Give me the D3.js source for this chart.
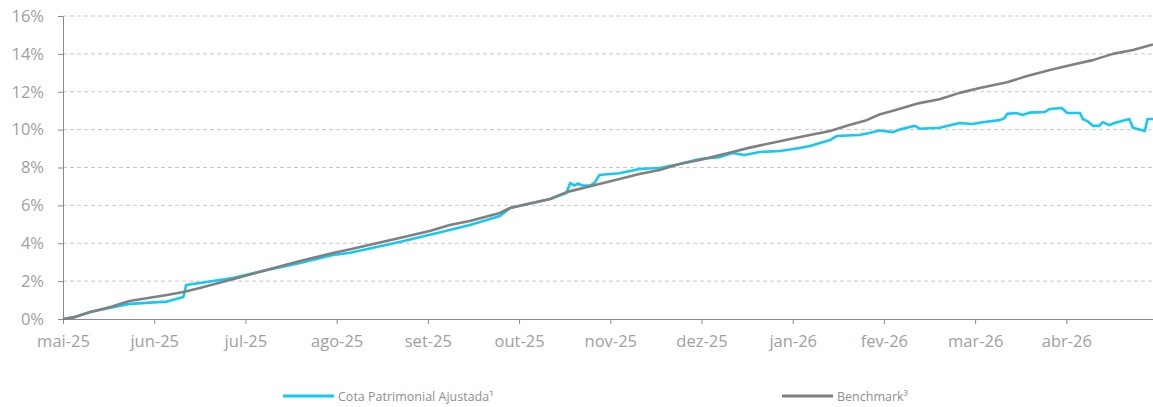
<!DOCTYPE html>
<html>
<head>
<meta charset="utf-8">
<script src="https://cdn.jsdelivr.net/npm/d3@7"></script>
<style>
  html, body { margin: 0; padding: 0; background: #fff; }
  svg { display: block; font-family: 'Open Sans', 'Noto Sans', sans-serif; }
</style>
</head>
<body>
<svg id="chart" width="1153" height="407"></svg>
<script>
// Month tick labels (equally spaced category-like months)
const monthLabels = ["mai-25","jun-25","jul-25","ago-25","set-25","out-25","nov-25","dez-25","jan-26","fev-26","mar-26","abr-26"];
const yTicks = [0, 2, 4, 6, 8, 10, 12, 14, 16];
const seriesNames = ["Cota Patrimonial Ajustada¹", "Benchmark³"];

// Time in months since mai-25 (fractional)
const cotaT = [0,0.13,0.30,0.52,0.73,1.00,1.14,1.32,1.35,1.50,1.86,2.24,2.60,2.96,3.15,3.69,4.24,4.46,4.79,4.90,5.34,5.52,5.56,5.61,5.64,5.70,5.78,5.83,5.88,6.10,6.32,6.54,6.76,6.98,7.20,7.34,7.47,7.64,7.86,8.08,8.19,8.41,8.48,8.73,8.84,8.95,9.10,9.17,9.34,9.39,9.61,9.83,9.97,10.10,10.27,10.32,10.35,10.45,10.52,10.60,10.76,10.82,10.95,11.01,11.15,11.18,11.23,11.29,11.36,11.40,11.47,11.53,11.69,11.73,11.86,11.89,11.95];
const cotaV = [0,0.1,0.37,0.6,0.8,0.88,0.92,1.16,1.8,1.9,2.16,2.59,2.96,3.38,3.5,4.07,4.7,4.96,5.44,5.86,6.34,6.65,7.18,7.05,7.15,7.05,7.05,7.2,7.6,7.7,7.92,7.97,8.18,8.45,8.55,8.77,8.66,8.82,8.87,9.03,9.14,9.45,9.66,9.72,9.82,9.95,9.87,10.0,10.2,10.05,10.1,10.35,10.3,10.4,10.5,10.6,10.83,10.88,10.77,10.9,10.93,11.09,11.14,10.88,10.88,10.56,10.45,10.2,10.2,10.4,10.24,10.35,10.56,10.1,9.93,10.56,10.56];

const benchT = [0,0.13,0.30,0.52,0.73,1.00,1.14,1.32,1.50,1.86,2.01,2.24,2.60,2.96,3.15,3.69,4.02,4.24,4.46,4.79,4.90,5.34,5.52,5.88,6.10,6.32,6.54,6.76,6.98,7.34,7.53,8.08,8.41,8.62,8.81,8.95,9.10,9.39,9.61,9.83,10.05,10.35,10.57,10.82,11.04,11.29,11.51,11.73,11.95];
const benchV = [0,0.1,0.37,0.63,0.95,1.16,1.27,1.43,1.64,2.1,2.3,2.6,3.06,3.49,3.68,4.28,4.65,4.96,5.17,5.6,5.86,6.34,6.7,7.13,7.39,7.66,7.87,8.18,8.4,8.82,9.05,9.61,9.93,10.24,10.5,10.8,11.0,11.4,11.6,11.94,12.2,12.5,12.83,13.15,13.4,13.67,14.0,14.2,14.5];

const colors = ["#16c8f2", "#808080"];

const svg = d3.select("#chart");
const margin = {left: 63, right: 0, top: 16, bottom: 88};
const W = 1153, H = 407;
const x = d3.scaleLinear().domain([0, 11.95]).range([margin.left, W - margin.right]);
const y = d3.scaleLinear().domain([0, 16]).range([H - margin.bottom, margin.top]);

// Grid lines
svg.append("g").selectAll("line").data(yTicks.filter(d => d > 0)).join("line")
  .attr("x1", margin.left).attr("x2", W)
  .attr("y1", d => y(d)).attr("y2", d => y(d))
  .attr("stroke", "#c8c8c8").attr("stroke-width", 1).attr("stroke-dasharray", "4,3");

// Y axis
const yAxis = d3.axisLeft(y).tickValues(yTicks).tickFormat(d => d + "%").tickSize(5).tickPadding(14);
const yg = svg.append("g").attr("transform", `translate(${margin.left},0)`).call(yAxis);
yg.attr("font-family", null).attr("font-size", null);
yg.select(".domain").attr("stroke", "#8a8a8a");
yg.selectAll(".tick line").attr("stroke", "#8a8a8a");
yg.selectAll(".tick text").attr("fill", "#a0a0a0").style("font-size", "16.5px");

// X axis
const xAxis = d3.axisBottom(x).tickValues(d3.range(monthLabels.length)).tickFormat(i => monthLabels[i]).tickSize(5).tickPadding(11);
const xg = svg.append("g").attr("transform", `translate(0,${y(0)})`).call(xAxis);
xg.attr("font-family", null).attr("font-size", null);
xg.select(".domain").attr("stroke", "#8a8a8a");
xg.selectAll(".tick line").attr("stroke", "#8a8a8a");
xg.selectAll(".tick text").attr("fill", "#a0a0a0").style("font-size", "16.5px");

// Lines
const line = d3.line().x(d => x(d[0])).y(d => y(d[1]));
const bench = benchT.map((t, i) => [t, benchV[i]]);
const cota = cotaT.map((t, i) => [t, cotaV[i]]);
svg.append("path").datum(cota).attr("d", line).attr("fill", "none")
  .attr("stroke", colors[0]).attr("stroke-width", 2.6).attr("stroke-linejoin", "round");
svg.append("path").datum(bench).attr("d", line).attr("fill", "none")
  .attr("stroke", colors[1]).attr("stroke-width", 2.6).attr("stroke-linejoin", "round");

// Legend
const legendX = [283, 782];
const lg = svg.append("g");
seriesNames.forEach((name, i) => {
  lg.append("line").attr("x1", legendX[i]).attr("x2", legendX[i] + 51)
    .attr("y1", 396).attr("y2", 396).attr("stroke", colors[i]).attr("stroke-width", 3);
  lg.append("text").attr("x", legendX[i] + 55).attr("y", 400.5)
    .attr("fill", "#8f8f8f").style("font-size", "12.5px").text(name);
});
</script>
</body>
</html>
